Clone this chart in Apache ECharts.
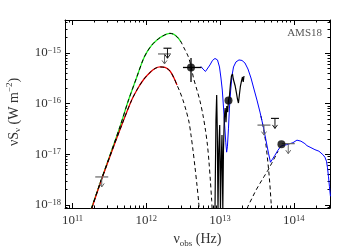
<!DOCTYPE html>
<html><head><meta charset="utf-8">
<script src="https://cdn.jsdelivr.net/npm/echarts@6/dist/echarts.min.js"></script>
<style>html,body{margin:0;padding:0;background:#fff}#c{width:350px;height:250px}</style>
</head><body><div id="c"></div>
<script>
// Axis ranges (log10 units)
const xRange = [10.898, 14.49];
const yRange = [-18.06, -14.35];
const xMajorTicks = [11, 12, 13, 14];
const yMajorTicks = [-18, -17, -16, -15];

// All points: [log10 nu_obs (Hz), log10 nuS_nu (W m^-2)]
const greenFit = [[11.224,-18.205],[11.373,-17.572],[11.508,-17.018],[11.650,-16.424],[11.759,-15.930],[11.874,-15.465],[11.955,-15.138],[12.010,-14.980],[12.077,-14.842],[12.145,-14.743],[12.213,-14.674],[12.267,-14.634],[12.321,-14.614],[12.375,-14.634],[12.430,-14.703],[12.470,-14.782]];
const greenTail = [[12.511,-14.901],[12.565,-15.059],[12.606,-15.257],[12.640,-15.495],[12.687,-15.732],[12.728,-15.950],[12.768,-16.226],[12.802,-16.523],[12.829,-16.820],[12.850,-17.156],[12.870,-17.552],[12.886,-17.908],[12.897,-18.205]];
const redFit = [[11.230,-18.205],[11.373,-17.582],[11.508,-17.038],[11.667,-16.424],[11.802,-15.930],[11.888,-15.692],[11.969,-15.514],[12.050,-15.386],[12.118,-15.307],[12.186,-15.277],[12.253,-15.287],[12.321,-15.356],[12.375,-15.495],[12.416,-15.633]];
const redTail = [[12.457,-15.772],[12.497,-15.930],[12.538,-16.128],[12.579,-16.365],[12.606,-16.622],[12.633,-16.919],[12.660,-17.255],[12.687,-17.611],[12.710,-17.948],[12.721,-18.205]];
const blueModel = [[12.741,-15.267],[12.768,-15.317],[12.802,-15.366],[12.829,-15.346],[12.863,-15.237],[12.897,-15.148],[12.931,-15.109],[12.965,-15.138],[12.992,-15.277],[13.012,-15.495],[13.030,-15.732],[13.046,-16.068],[13.062,-16.424],[13.077,-16.761],[13.089,-16.958],[13.100,-16.840],[13.114,-16.484],[13.127,-16.088],[13.144,-15.732],[13.161,-15.455],[13.182,-15.277],[13.215,-15.178],[13.256,-15.138],[13.297,-15.148],[13.337,-15.198],[13.378,-15.317],[13.419,-15.495],[13.459,-15.712],[13.500,-15.930],[13.541,-16.167],[13.581,-16.424],[13.622,-16.721],[13.656,-16.978],[13.683,-17.156],[13.710,-17.097],[13.744,-17.018],[13.785,-16.919],[13.825,-16.840],[13.866,-16.820],[13.907,-16.810],[13.947,-16.790],[13.988,-16.771],[14.015,-16.751],[14.042,-16.721],[14.069,-16.751],[14.096,-16.741],[14.123,-16.780],[14.150,-16.790],[14.178,-16.830],[14.205,-16.820],[14.232,-16.869],[14.259,-16.860],[14.286,-16.909],[14.313,-16.929],[14.340,-16.939],[14.367,-16.978],[14.394,-17.008],[14.421,-17.057],[14.442,-17.137],[14.455,-17.255],[14.469,-17.433],[14.482,-17.631],[14.496,-17.829]];
const torusDashed = [[13.554,-16.246],[13.588,-16.484],[13.615,-16.721],[13.638,-17.018],[13.659,-17.315],[13.676,-17.611],[13.690,-17.908],[13.701,-18.205]];
const hotDashed = [[13.337,-18.205],[13.378,-18.027],[13.432,-17.868],[13.486,-17.710],[13.541,-17.572],[13.595,-17.443],[13.649,-17.315],[13.697,-17.186],[13.744,-17.057],[13.785,-16.939]];
const irsSpectrum = [[12.931,-18.10],[12.944,-16.325],[12.954,-15.831],[12.962,-16.523],[12.972,-18.10],[12.982,-16.919],[12.995,-16.424],[13.005,-18.10],[13.016,-17.117],[13.026,-16.622],[13.037,-18.10],[13.046,-16.919],[13.057,-16.286],[13.069,-16.088],[13.080,-16.365],[13.091,-16.048],[13.103,-16.167],[13.114,-15.930],[13.127,-15.851],[13.141,-15.613],[13.154,-15.455],[13.168,-15.415],[13.179,-15.514],[13.191,-15.475],[13.205,-15.653],[13.220,-15.772],[13.236,-15.910],[13.249,-15.989],[13.263,-15.811],[13.276,-15.653],[13.290,-15.554],[13.304,-15.475],[13.314,-15.574],[13.324,-15.455]];
const detections = [[12.606,-15.287],[13.114,-15.940],[13.832,-16.800]];
// [x, y, xLo, xHi, yLo, yHi]
const detectionErrors = [[12.606,-15.287,12.497,12.748,-15.574,-15.099]];
const upperLimitsGrey = [[11.396,-17.447],[12.247,-15.020],[13.595,-16.424],[13.924,-16.790]];
const upperLimitsBlack = [[12.287,-14.907],[13.744,-16.292]];

const SERIF = "'Liberation Serif','DejaVu Serif',serif";
const TXT = '#333';

function minorVals(lo, hi) {
  const out = [];
  for (let n = Math.floor(lo); n <= Math.ceil(hi); n++)
    for (let k = 2; k <= 9; k++) { const v = n + Math.log10(k); if (v > lo && v < hi) out.push(v); }
  return out;
}
const supRich = {
  b: {fontFamily: SERIF, fontSize: 13, lineHeight: 14, color: TXT},
  s: {fontFamily: SERIF, fontSize: 8.5, lineHeight: 8, verticalAlign: 'top', color: TXT}
};
function axis(kind, pos, range, ticks, major, labelFmt) {
  const a = {
    type: 'value', min: range[0], max: range[1], position: pos,
    axisLine: {show: major, onZero: false, lineStyle: {color: '#000', width: 1}},
    axisTick: {show: true, inside: true, length: major ? 5 : 2.5, customValues: ticks, lineStyle: {color: '#000', width: 1}},
    axisLabel: {show: false},
    splitLine: {show: false}
  };
  if (labelFmt) {
    a.axisLabel = {show: true, customValues: ticks, formatter: labelFmt, rich: supRich,
      margin: kind === 'x' ? 6 : 4};
  }
  return a;
}
const xFmt = v => '{b|10}{s|' + Math.round(v) + '}';
const yFmt = v => '{b|10}{s|\u2212' + Math.abs(Math.round(v)) + '}';
const xMinor = minorVals(xRange[0], xRange[1]);
const yMinor = minorVals(yRange[0], yRange[1]);

const xAxes = [
  axis('x', 'bottom', xRange, xMajorTicks, true, xFmt),
  axis('x', 'bottom', xRange, xMinor, false),
  axis('x', 'top', xRange, xMajorTicks, true),
  axis('x', 'top', xRange, xMinor, false)
];
xAxes[0].name = '{n|\u03bd}{sub|obs}{n| (Hz)}';
xAxes[0].nameLocation = 'middle';
xAxes[0].nameGap = 21;
xAxes[0].nameTextStyle = {rich: {
  n: {fontFamily: SERIF, fontSize: 14, lineHeight: 17, color: TXT},
  sub: {fontFamily: SERIF, fontSize: 9, lineHeight: 9, verticalAlign: 'bottom', color: TXT}
}};
const yAxes = [
  axis('y', 'left', yRange, yMajorTicks, true, yFmt),
  axis('y', 'left', yRange, yMinor, false),
  axis('y', 'right', yRange, yMajorTicks, true),
  axis('y', 'right', yRange, yMinor, false)
];

function lineSeries(data, color, width, dashed, z, smooth) {
  return {type: 'line', data: data, xAxisIndex: 0, yAxisIndex: 0, showSymbol: false, symbol: 'none',
    smooth: smooth || false, clip: true, z: z, silent: true,
    lineStyle: {color: color, width: width, type: dashed ? [4, 3] : 'solid'}};
}
function ulRenderer(color, hw) {
  return function (params, api) {
    const p = api.coord([api.value(0), api.value(1)]);
    const x = p[0], y = p[1];
    return {type: 'group', children: [
      {type: 'line', shape: {x1: x - hw, y1: y, x2: x + hw, y2: y}, style: {stroke: color, lineWidth: 1.2}},
      {type: 'line', shape: {x1: x, y1: y, x2: x, y2: y + 10}, style: {stroke: color, lineWidth: 1}},
      {type: 'polyline', shape: {points: [[x - 2.5, y + 6.5], [x, y + 10], [x + 2.5, y + 6.5]]}, style: {stroke: color, fill: null, lineWidth: 1}}
    ]};
  };
}
function errRenderer(params, api) {
  const l = api.coord([api.value(2), api.value(1)]);
  const r = api.coord([api.value(3), api.value(1)]);
  const b = api.coord([api.value(0), api.value(4)]);
  const t = api.coord([api.value(0), api.value(5)]);
  return {type: 'group', children: [
    {type: 'line', shape: {x1: l[0], y1: l[1], x2: r[0], y2: r[1]}, style: {stroke: '#000', lineWidth: 1.3}},
    {type: 'line', shape: {x1: b[0], y1: b[1], x2: t[0], y2: t[1]}, style: {stroke: '#000', lineWidth: 1.3}}
  ]};
}

const chart = echarts.init(document.getElementById('c'), null, {renderer: 'canvas'});
chart.setOption({
  animation: false,
  backgroundColor: '#fff',
  grid: {left: 65, right: 20, top: 20, bottom: 42, containLabel: false, outerBoundsMode: 'none'},
  xAxis: xAxes,
  yAxis: yAxes,
  graphic: [
    {type: 'text', right: 28, top: 28, style: {text: 'AMS18', fontFamily: SERIF, fontSize: 11, fill: '#555'}},
    {type: 'text', x: 14, y: 112, rotation: Math.PI / 2, style: {
      text: '{n|\u03bdS}{sub|\u03bd}{n| (W m}{sup|\u22122}{n|)}', align: 'center', verticalAlign: 'middle',
      rich: {
        n: {fontFamily: SERIF, fontSize: 14, lineHeight: 17, fill: TXT},
        sub: {fontFamily: SERIF, fontSize: 9, lineHeight: 8, verticalAlign: 'bottom', fill: TXT},
        sup: {fontFamily: SERIF, fontSize: 9, lineHeight: 8, verticalAlign: 'top', fill: TXT}
      }}}
  ],
  series: [
    lineSeries(greenFit, '#22ee22', 1.3, false, 2, 0.3),
    lineSeries(redFit, '#f00000', 1.3, false, 2, 0.3),
    lineSeries(greenFit.concat(greenTail), '#000', 1, true, 3, 0.3),
    lineSeries(redFit.concat(redTail), '#000', 1, true, 3, 0.3),
    lineSeries(torusDashed, '#000', 1, true, 3),
    lineSeries(hotDashed, '#000', 1, true, 3),
    lineSeries(blueModel, '#0000ff', 1, false, 4),
    lineSeries(irsSpectrum, '#000', 1.2, false, 5),
    {type: 'custom', data: detectionErrors, xAxisIndex: 0, yAxisIndex: 0, renderItem: errRenderer, z: 6, silent: true, encode: {x: 0, y: 1}},
    {type: 'scatter', data: detections, xAxisIndex: 0, yAxisIndex: 0, symbol: 'circle', symbolSize: 8, itemStyle: {color: '#000'}, z: 7, silent: true},
    {type: 'custom', data: upperLimitsGrey, xAxisIndex: 0, yAxisIndex: 0, renderItem: ulRenderer('#666', 6.5), z: 6, silent: true, encode: {x: 0, y: 1}},
    {type: 'custom', data: upperLimitsBlack, xAxisIndex: 0, yAxisIndex: 0, renderItem: ulRenderer('#111', 4), z: 6, silent: true, encode: {x: 0, y: 1}}
  ]
});
</script></body></html>
